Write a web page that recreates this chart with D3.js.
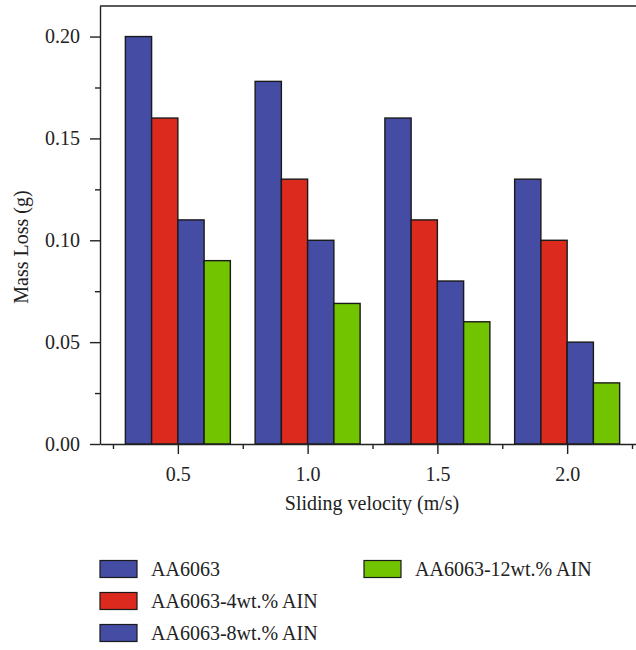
<!DOCTYPE html>
<html>
<head>
<meta charset="utf-8">
<script src="https://cdn.jsdelivr.net/npm/d3@7"></script>
<style>
  body { margin: 0; background: #fff; }
  svg text { font-family: "Liberation Serif", "DejaVu Serif", serif; fill: #222; }
  .axis path, .axis line { stroke: #222; stroke-width: 1.4; }
</style>
</head>
<body>
<svg width="636" height="650"></svg>
<script>
// data
var velocities = [0.5, 1.0, 1.5, 2.0];
var seriesNames = ['AA6063', 'AA6063-4wt.% AIN', 'AA6063-8wt.% AIN', 'AA6063-12wt.% AIN'];
var seriesColors = ['#444ca4', '#dc2a1e', '#444ca4', '#72c400'];
var aa6063 = [0.20, 0.178, 0.16, 0.13];
var aa6063_4 = [0.16, 0.13, 0.11, 0.10];
var aa6063_8 = [0.11, 0.10, 0.08, 0.05];
var aa6063_12 = [0.09, 0.069, 0.06, 0.03];
var yTicks = [0.00, 0.05, 0.10, 0.15, 0.20];
var yMinor = [0.025, 0.075, 0.125, 0.175];
var xMinor = [0.25, 0.75, 1.25, 1.75, 2.25];

var allSeries = [aa6063, aa6063_4, aa6063_8, aa6063_12];

var svg = d3.select('svg');
var plotLeft = 100, plotBottom = 444, plotTop = 6, plotRight = 645;
var fontSize = '20px';

var x = d3.scaleLinear().domain([0.2, 2.3]).range([plotLeft, plotRight]);
var y = d3.scaleLinear().domain([0, 0.215]).range([plotBottom, plotTop]);
var inner = d3.scaleBand().domain(d3.range(4)).range([-52.5, 52.5]);

// bars
velocities.forEach(function (v, i) {
  svg.append('g').selectAll('rect')
    .data(allSeries.map(function (s, k) { return { k: k, val: s[i] }; }))
    .enter()
    .append('rect')
      .attr('x', d => x(v) + inner(d.k))
      .attr('y', d => y(d.val))
      .attr('width', inner.bandwidth())
      .attr('height', d => plotBottom - y(d.val))
      .attr('fill', d => seriesColors[d.k])
      .attr('stroke', '#1a1a1a')
      .attr('stroke-width', 1.4);
});

// y axis
var yAxis = d3.axisLeft(y)
  .tickValues(yTicks)
  .tickFormat(d3.format('.2f'))
  .tickSize(10)
  .tickSizeOuter(0)
  .tickPadding(10);
svg.append('g')
  .attr('class', 'axis')
  .attr('transform', 'translate(' + plotLeft + ',0)')
  .call(yAxis)
  .call(g => g.selectAll('text').style('font-size', fontSize));

svg.append('g')
  .attr('class', 'axis')
  .attr('transform', 'translate(' + plotLeft + ',0)')
  .call(d3.axisLeft(y).tickValues(yMinor).tickSize(5).tickFormat(''))
  .call(g => g.select('.domain').remove());

// x axis
var xAxis = d3.axisBottom(x)
  .tickValues(velocities)
  .tickFormat(d3.format('.1f'))
  .tickSize(10)
  .tickSizeOuter(0)
  .tickPadding(13);
svg.append('g')
  .attr('class', 'axis')
  .attr('transform', 'translate(0,' + plotBottom + ')')
  .call(xAxis)
  .call(g => g.selectAll('text').style('font-size', fontSize));

svg.append('g')
  .attr('class', 'axis')
  .attr('transform', 'translate(0,' + plotBottom + ')')
  .call(d3.axisBottom(x).tickValues(xMinor).tickSize(5).tickFormat(''))
  .call(g => g.select('.domain').remove());

// top frame line
svg.append('line')
  .attr('x1', plotLeft).attr('x2', 636)
  .attr('y1', plotTop).attr('y2', plotTop)
  .attr('stroke', '#222').attr('stroke-width', 1.6);

// axis labels
svg.append('text')
  .attr('x', 372)
  .attr('y', 510)
  .style('text-anchor', 'middle')
  .style('font-size', fontSize)
  .text('Sliding velocity (m/s)');

svg.append('text')
  .attr('transform', 'rotate(-90)')
  .attr('x', -247)
  .attr('y', 28)
  .style('text-anchor', 'middle')
  .style('font-size', fontSize)
  .text('Mass Loss (g)');

// legend
var legendPos = [[100, 569], [100, 601], [100, 633], [364, 569]];
var legend = svg.append('g').selectAll('g')
  .data(seriesNames)
  .enter()
  .append('g')
    .attr('transform', (d, i) => 'translate(' + legendPos[i][0] + ',' + legendPos[i][1] + ')');

legend.append('rect')
  .attr('x', 0).attr('y', -8.5)
  .attr('width', 37).attr('height', 17)
  .attr('fill', (d, i) => seriesColors[i])
  .attr('stroke', '#1a1a1a')
  .attr('stroke-width', 1.2);

legend.append('text')
  .attr('x', 51)
  .attr('dy', '0.35em')
  .style('font-size', fontSize)
  .text(d => d);
</script>
</body>
</html>
